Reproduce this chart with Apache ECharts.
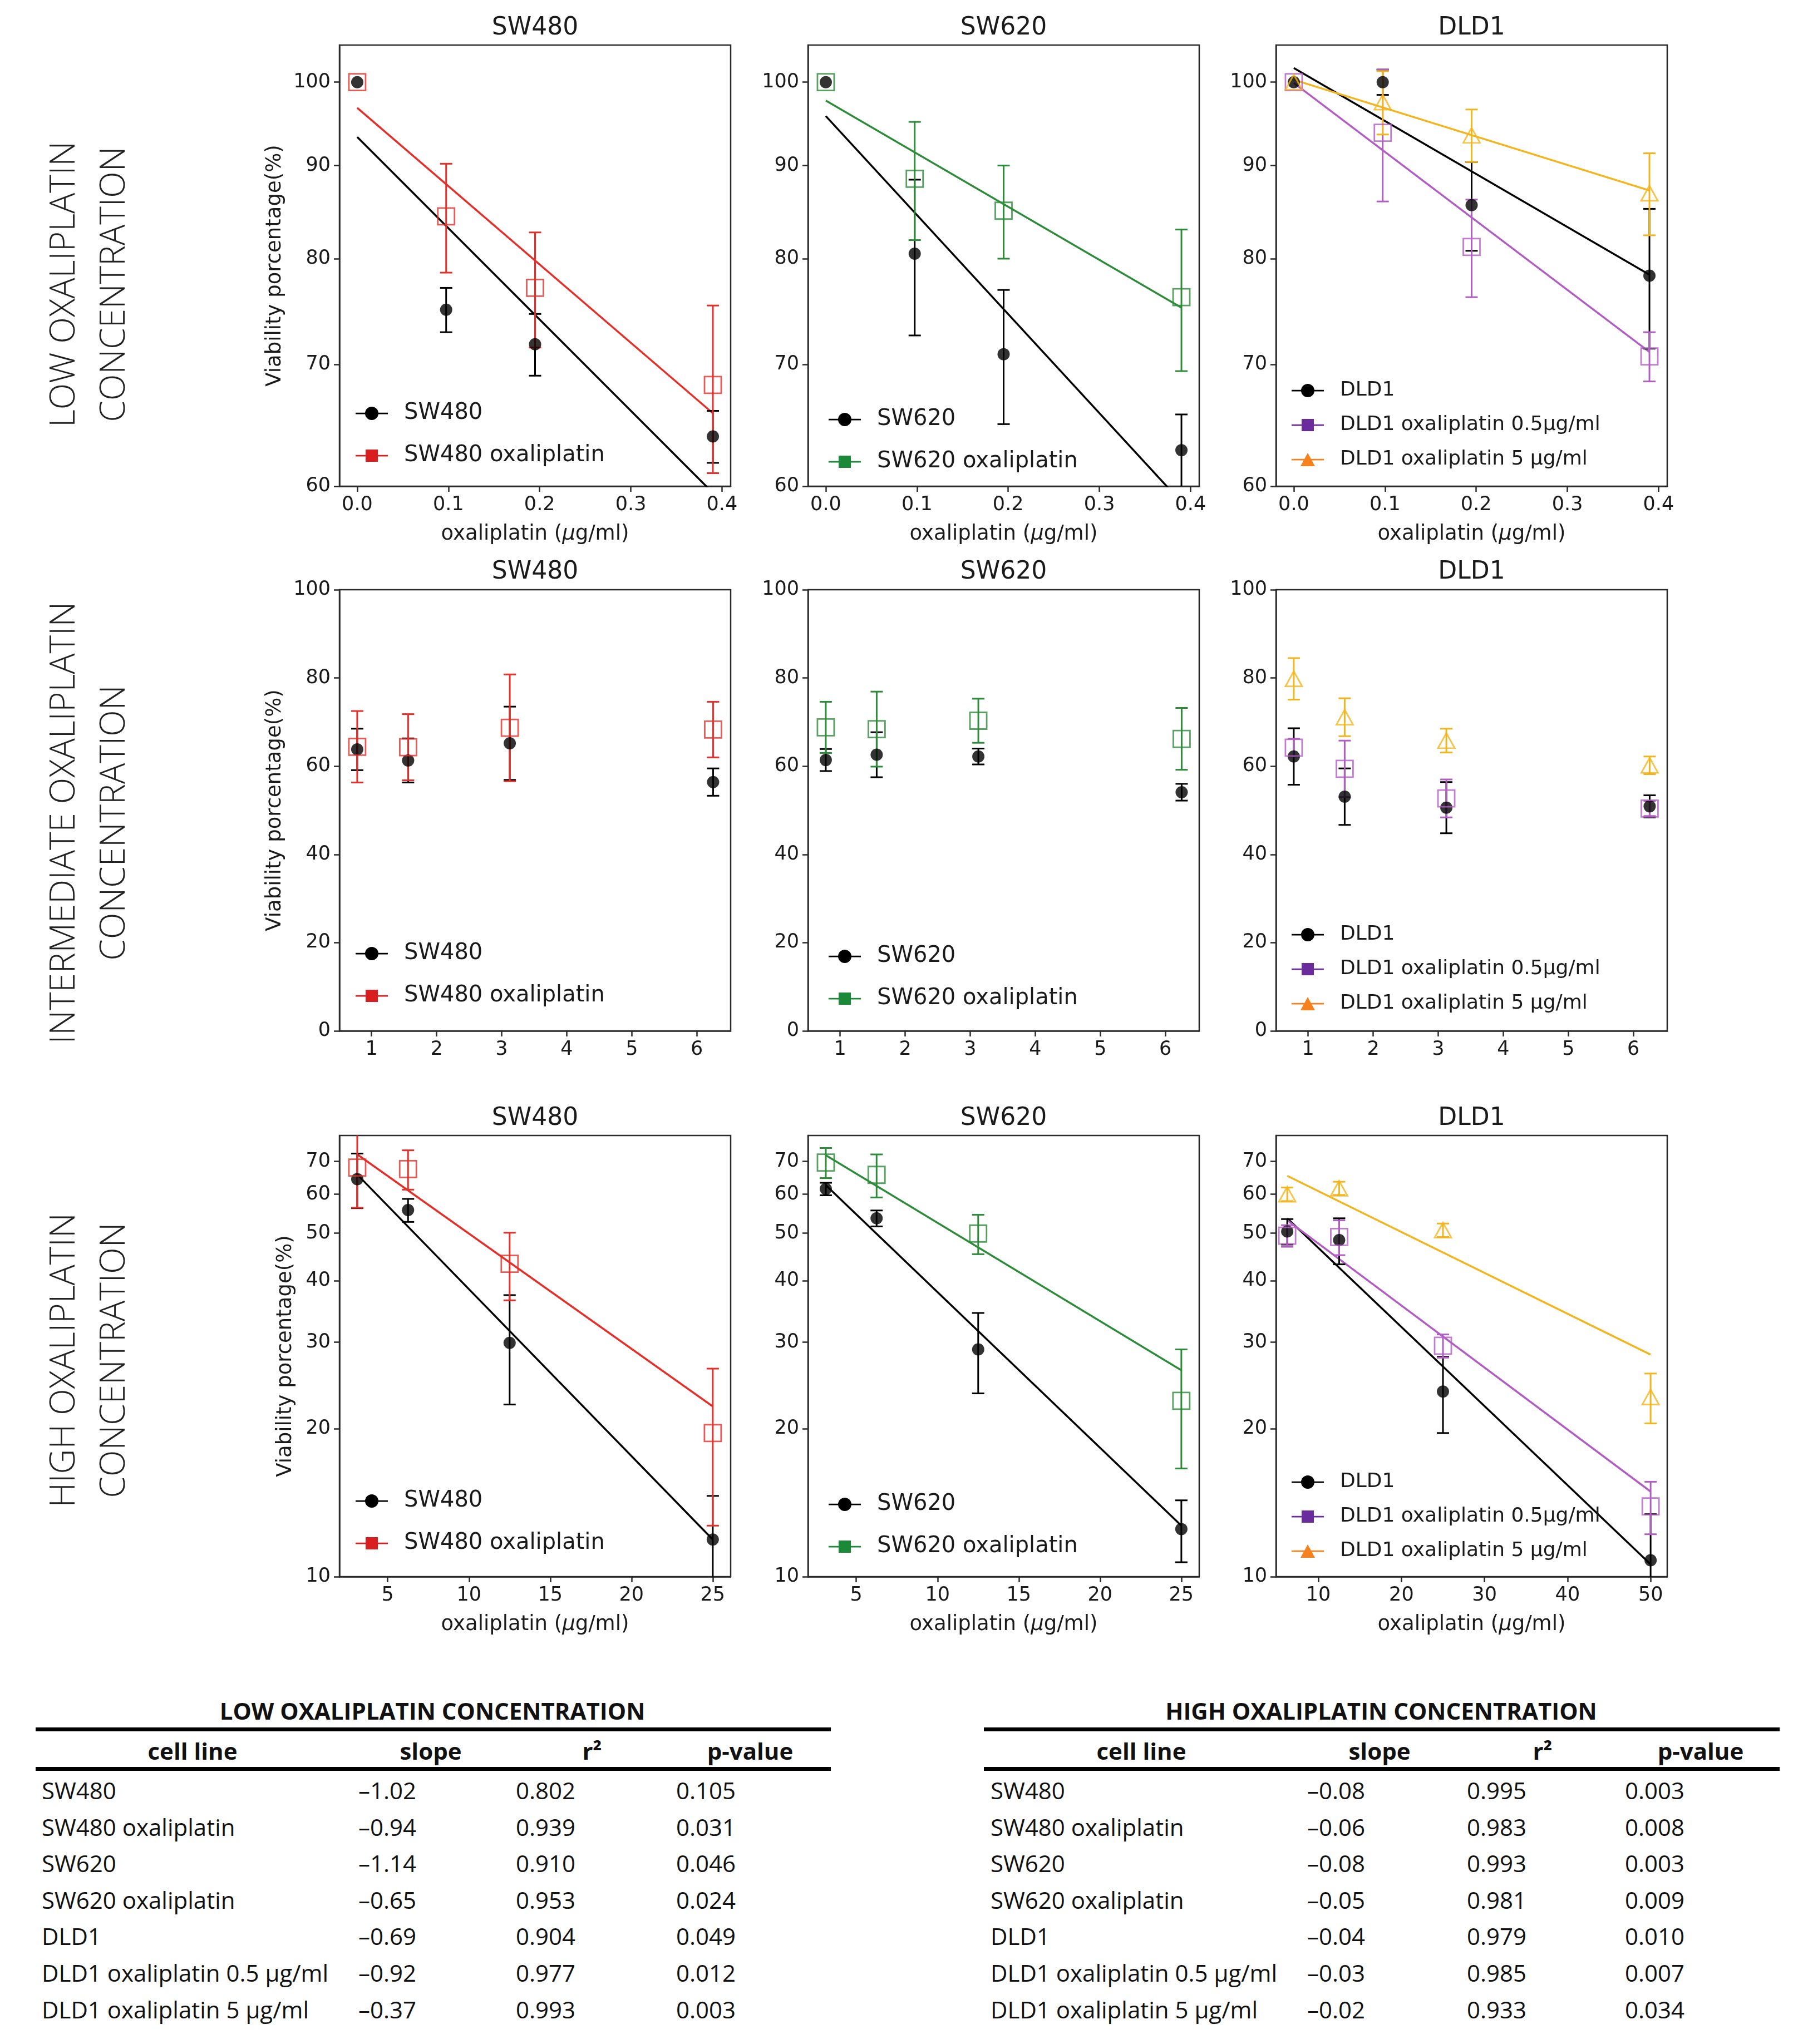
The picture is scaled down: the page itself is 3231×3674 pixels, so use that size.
<!DOCTYPE html>
<html><head><meta charset="utf-8">
<script src="https://cdn.jsdelivr.net/npm/echarts@6/dist/echarts.min.js"></script>
<style>
html,body{margin:0;padding:0;background:#fff;width:3231px;height:3674px;overflow:hidden;}
#chart{position:absolute;left:0;top:0;width:3231px;height:3000px;}
.t{position:absolute;white-space:nowrap;font-family:'Open Sans',sans-serif;color:#111;line-height:1;font-size:42px;}
.b{font-weight:700;}
.rule{position:absolute;background:#000;height:7px;}
</style></head><body>
<div id="chart"></div>
<div id="tables"></div>
<script>
// ---------------- data ----------------
const lowX = [0, 0.0975, 0.195, 0.39];
const midX = [0.78, 1.5625, 3.125, 6.25];
const highSWX = [3.125, 6.25, 12.5, 25];
const highDLDX = [6.25, 12.5, 25, 50];
const lowFitX = [0, 0.39];
const highSWFitX = [3.125, 25];
const highDLDFitX = [6.25, 50];

const lowXTicks = [0, 0.1, 0.2, 0.3, 0.4];
const midXTicks = [1, 2, 3, 4, 5, 6];
const highSWXTicks = [5, 10, 15, 20, 25];
const highDLDXTicks = [10, 20, 30, 40, 50];
const lowYTicks = [60, 70, 80, 90, 100];
const midYTicks = [0, 20, 40, 60, 80, 100];
const highYTicks = [10, 20, 30, 40, 50, 60, 70];

// low concentration
const lowSW480 = [100, 75.0, 71.8, 63.9];        const lowSW480Err = [0, 2.1, 2.8, 2.1];
const lowSW480Ox = [100, 84.4, 77.1, 68.2];      const lowSW480OxErr = [0, 5.8, 5.6, 7.2];
const lowSW480Fit = [93.3, 59.5];                const lowSW480OxFit = [96.8, 65.8];
const lowSW620 = [100, 80.5, 70.9, 62.8];        const lowSW620Err = [0, 7.9, 6.0, 2.9];
const lowSW620Ox = [100, 88.5, 85.0, 76.2];      const lowSW620OxErr = [0, 6.6, 5.0, 6.8];
const lowSW620Fit = [95.8, 58.8];                const lowSW620OxFit = [97.7, 75.2];
const lowDLD1 = [100, 100, 85.6, 78.3];          const lowDLD1Err = [0, 1.6, 4.8, 6.9];
const lowDLD1Ox05 = [100, 93.8, 81.2, 70.7];     const lowDLD1Ox05Err = [0, 7.8, 5.0, 2.2];
const lowDLD1Ox5 = [100, 97.5, 93.5, 86.9];      const lowDLD1Ox5Err = [0, 3.9, 3.1, 4.5];
const lowDLD1Fit = [101.8, 78.4]; const lowDLD1Ox05Fit = [99.9, 71.1]; const lowDLD1Ox5Fit = [100.3, 87.2];

// intermediate concentration
const midSW480 = [63.8, 61.3, 65.2, 56.4];       const midSW480Err = [4.7, 5.0, 8.3, 3.1];
const midSW480Ox = [64.4, 64.3, 68.7, 68.3];     const midSW480OxErr = [8.1, 7.5, 12.1, 6.3];
const midSW620 = [61.4, 62.6, 62.2, 54.1];       const midSW620Err = [2.5, 5.1, 1.8, 1.9];
const midSW620Ox = [68.8, 68.4, 70.3, 66.2];     const midSW620OxErr = [5.8, 8.5, 5.0, 7.0];
const midDLD1 = [62.2, 53.1, 50.6, 50.9];        const midDLD1Err = [6.4, 6.4, 5.8, 2.5];
const midDLD1Ox05 = [64.2, 59.4, 52.7, 50.4];    const midDLD1Ox05Err = [2.0, 6.4, 4.3, 1.7];
const midDLD1Ox5 = [79.8, 71.1, 65.8, 60.2];     const midDLD1Ox5Err = [4.7, 4.3, 2.7, 2.0];

// high concentration
const highSW480 = [64.4, 55.7, 29.9, 11.9];      const highSW480Err = [8.2, 3.0, 7.5, 2.7];
const highSW480Ox = [68.0, 67.5, 43.3, 19.6];    const highSW480OxErr = [11.7, 6.2, 6.8, 6.9];
const highSW480Fit = [65.8, 11.9];               const highSW480OxFit = [72.3, 22.2];
const highSW620 = [61.5, 53.6, 29.0, 12.5];      const highSW620Err = [1.8, 2.0, 5.4, 1.8];
const highSW620Ox = [69.6, 65.7, 49.9, 22.8];    const highSW620OxErr = [4.9, 6.6, 4.6, 6.2];
const highSW620Fit = [62.6, 12.7];               const highSW620OxFit = [72.0, 26.3];
const highDLD1 = [50.4, 48.4, 23.8, 10.8];       const highDLD1Err = [3.0, 5.2, 4.2, 2.6];
const highDLD1Ox05 = [49.4, 49.1, 29.5, 13.9];   const highDLD1Ox05Err = [2.5, 4.0, 1.6, 1.7];
const highDLD1Ox5 = [60.0, 61.7, 50.7, 23.2];    const highDLD1Ox5Err = [1.9, 1.9, 1.6, 2.7];
const highDLD1Fit = [53.6, 10.6]; const highDLD1Ox05Fit = [53.1, 14.9]; const highDLD1Ox5Fit = [65.4, 28.3];

// tables
const tableCellLines = ['SW480', 'SW480 oxaliplatin', 'SW620', 'SW620 oxaliplatin', 'DLD1', 'DLD1 oxaliplatin 0.5 µg/ml', 'DLD1 oxaliplatin 5 µg/ml'];
const tableHeaders = ['cell line', 'slope', 'r²', 'p-value'];
const lowSlope = ['–1.02', '–0.94', '–1.14', '–0.65', '–0.69', '–0.92', '–0.37'];
const lowR2 = ['0.802', '0.939', '0.910', '0.953', '0.904', '0.977', '0.993'];
const lowP = ['0.105', '0.031', '0.046', '0.024', '0.049', '0.012', '0.003'];
const highSlope = ['–0.08', '–0.06', '–0.08', '–0.05', '–0.04', '–0.03', '–0.02'];
const highR2 = ['0.995', '0.983', '0.993', '0.981', '0.979', '0.985', '0.933'];
const highP = ['0.003', '0.008', '0.003', '0.009', '0.010', '0.007', '0.034'];

// ---------------- styling / layout ----------------
const N = {sw480:'SW480', sw480ox:'SW480 oxaliplatin', sw620:'SW620', sw620ox:'SW620 oxaliplatin',
  dld:'DLD1', dld05:'DLD1 oxaliplatin 0.5µg/ml', dld5:'DLD1 oxaliplatin 5 µg/ml'};
const KIND = {
  black: {symbol:'circle', size:22, color:'#000000', hollow:false, legend:'#000000'},
  red: {symbol:'rect', size:30, color:'#E3302A', hollow:true, legend:'#D81E1E'},
  green: {symbol:'rect', size:30, color:'#2E8B3A', hollow:true, legend:'#1A8A38'},
  purple: {symbol:'rect', size:30, color:'#B15EC2', hollow:true, legend:'#6A2C9C'},
  yellow: {symbol:'triangle', size:30, color:'#F2B51E', hollow:true, legend:'#F5821F'}
};
const ICON = {
  circle: 'path://M0,10.8h58v2.6h-58z M17,12a12,12 0 1,1 24,0a12,12 0 1,1 -24,0z',
  rect: 'path://M0,10.8h58v2.6h-58z M18,1h22v22h-22z M0,0h0.01v24h-0.01z',
  triangle: 'path://M0,10.8h58v2.6h-58z M29,0L42,24H16z'
};
const colLeft = [610, 1452, 2293], gridW = 703;
const rowTop = [81, 1060, 2041], gridH = 793;
const titleY = [51, 1029, 2011];
const legendTop = [[715, 726, 676], [1686, 1691, 1654], [2670, 2676, 2638]];
const legendDx = [24, 32, 23];

function grp(name, kind, x, y, e, fitX, fit) { return {name, kind, x, y, e, fitX, fit}; }
const panels = [
  {r:0, c:0, title:'SW480', ylog:true, ymin:60, ymax:104.8, yTicks:lowYTicks, xmin:-0.0195, xmax:0.4095, xTicks:lowXTicks, xDec:1,
   groups:[grp(N.sw480,'black',lowX,lowSW480,lowSW480Err,lowFitX,lowSW480Fit), grp(N.sw480ox,'red',lowX,lowSW480Ox,lowSW480OxErr,lowFitX,lowSW480OxFit)]},
  {r:0, c:1, title:'SW620', ylog:true, ymin:60, ymax:104.8, yTicks:lowYTicks, xmin:-0.0195, xmax:0.4095, xTicks:lowXTicks, xDec:1,
   groups:[grp(N.sw620,'black',lowX,lowSW620,lowSW620Err,lowFitX,lowSW620Fit), grp(N.sw620ox,'green',lowX,lowSW620Ox,lowSW620OxErr,lowFitX,lowSW620OxFit)]},
  {r:0, c:2, title:'DLD1', ylog:true, ymin:60, ymax:104.8, yTicks:lowYTicks, xmin:-0.0195, xmax:0.4095, xTicks:lowXTicks, xDec:1,
   groups:[grp(N.dld,'black',lowX,lowDLD1,lowDLD1Err,lowFitX,lowDLD1Fit), grp(N.dld05,'purple',lowX,lowDLD1Ox05,lowDLD1Ox05Err,lowFitX,lowDLD1Ox05Fit), grp(N.dld5,'yellow',lowX,lowDLD1Ox5,lowDLD1Ox5Err,lowFitX,lowDLD1Ox5Fit)]},
  {r:1, c:0, title:'SW480', ylog:false, ymin:0, ymax:100, yTicks:midYTicks, xmin:0.507, xmax:6.52, xTicks:midXTicks, xDec:0, noXName:true,
   groups:[grp(N.sw480,'black',midX,midSW480,midSW480Err), grp(N.sw480ox,'red',midX,midSW480Ox,midSW480OxErr)]},
  {r:1, c:1, title:'SW620', ylog:false, ymin:0, ymax:100, yTicks:midYTicks, xmin:0.507, xmax:6.52, xTicks:midXTicks, xDec:0, noXName:true,
   groups:[grp(N.sw620,'black',midX,midSW620,midSW620Err), grp(N.sw620ox,'green',midX,midSW620Ox,midSW620OxErr)]},
  {r:1, c:2, title:'DLD1', ylog:false, ymin:0, ymax:100, yTicks:midYTicks, xmin:0.507, xmax:6.52, xTicks:midXTicks, xDec:0, noXName:true,
   groups:[grp(N.dld,'black',midX,midDLD1,midDLD1Err), grp(N.dld05,'purple',midX,midDLD1Ox05,midDLD1Ox05Err), grp(N.dld5,'yellow',midX,midDLD1Ox5,midDLD1Ox5Err)]},
  {r:2, c:0, title:'SW480', ylog:true, ymin:10, ymax:79, yTicks:highYTicks, xmin:2.03, xmax:26.1, xTicks:highSWXTicks, xDec:0,
   groups:[grp(N.sw480,'black',highSWX,highSW480,highSW480Err,highSWFitX,highSW480Fit), grp(N.sw480ox,'red',highSWX,highSW480Ox,highSW480OxErr,highSWFitX,highSW480OxFit)]},
  {r:2, c:1, title:'SW620', ylog:true, ymin:10, ymax:79, yTicks:highYTicks, xmin:2.03, xmax:26.1, xTicks:highSWXTicks, xDec:0,
   groups:[grp(N.sw620,'black',highSWX,highSW620,highSW620Err,highSWFitX,highSW620Fit), grp(N.sw620ox,'green',highSWX,highSW620Ox,highSW620OxErr,highSWFitX,highSW620OxFit)]},
  {r:2, c:2, title:'DLD1', ylog:true, ymin:10, ymax:79, yTicks:highYTicks, xmin:4.9, xmax:52, xTicks:highDLDXTicks, xDec:0,
   groups:[grp(N.dld,'black',highDLDX,highDLD1,highDLD1Err,highDLDFitX,highDLD1Fit), grp(N.dld05,'purple',highDLDX,highDLD1Ox05,highDLD1Ox05Err,highDLDFitX,highDLD1Ox05Fit), grp(N.dld5,'yellow',highDLDX,highDLD1Ox5,highDLD1Ox5Err,highDLDFitX,highDLD1Ox5Fit)]}
];

const AX = '#2a2a2a', TXT = '#1a1a1a', FONT = 'DejaVu Sans';
const grids = [], xAxes = [], yAxes = [], series = [], legends = [], graphics = [];

function errSeries(idx, color, data) {
  return {type:'custom', xAxisIndex:idx, yAxisIndex:idx, data, clip:true, silent:true, z:3,
    dimensions:['x','y','e'], encode:{x:0, y:1},
    renderItem: function (params, api) {
      const x = api.value(0), y = api.value(1), e = api.value(2);
      if (!(e > 0)) return null;
      const p1 = api.coord([x, y + e]), p2 = api.coord([x, y - e]);
      const c = 11, st = {stroke: color, lineWidth: 3};
      return {type:'group', children:[
        {type:'line', shape:{x1:p1[0], y1:p1[1], x2:p2[0], y2:p2[1]}, style:st},
        {type:'line', shape:{x1:p1[0]-c, y1:p1[1], x2:p1[0]+c, y2:p1[1]}, style:st},
        {type:'line', shape:{x1:p2[0]-c, y1:p2[1], x2:p2[0]+c, y2:p2[1]}, style:st}
      ]};
    }};
}

panels.forEach((p, i) => {
  const gl = colLeft[p.c], gt = rowTop[p.r];
  grids.push({left:gl, top:gt, width:gridW, height:gridH, show:true, borderColor:AX, borderWidth:2.5, backgroundColor:'transparent'});
  const xa = {type:'value', gridIndex:i, min:p.xmin, max:p.xmax,
    axisLine:{show:true, onZero:false, lineStyle:{color:AX, width:2.5}},
    axisTick:{show:true, length:10, lineStyle:{color:AX, width:2.5}, customValues:p.xTicks},
    axisLabel:{customValues:p.xTicks, formatter:v => Number(v).toFixed(p.xDec), fontSize:35, color:TXT, fontFamily:FONT, margin:16},
    splitLine:{show:false}};
  if (!p.noXName) {
    xa.name = 'oxaliplatin ({i|µ}g/ml)';
    xa.nameLocation = 'middle'; xa.nameGap = 68;
    xa.nameTextStyle = {fontSize:37, fontFamily:FONT, color:TXT, rich:{i:{fontSize:37, fontFamily:FONT, fontStyle:'italic', color:TXT}}};
  }
  xAxes.push(xa);
  const ya = {type:p.ylog ? 'log' : 'value', gridIndex:i, min:p.ymin, max:p.ymax,
    axisLine:{show:true, onZero:false, lineStyle:{color:AX, width:2.5}},
    axisTick:{show:true, length:10, lineStyle:{color:AX, width:2.5}, customValues:p.yTicks},
    axisLabel:{customValues:p.yTicks, formatter:v => String(Math.round(v)), fontSize:35, color:TXT, fontFamily:FONT, margin:16},
    splitLine:{show:false}, minorTick:{show:false}};
  if (p.ylog) ya.logBase = 10;
  if (p.c === 0) {
    ya.name = 'Viability porcentage(%)'; ya.nameLocation = 'middle'; ya.nameGap = p.r === 2 ? 78 : 97;
    ya.nameTextStyle = {fontSize:37, fontFamily:FONT, color:TXT};
  }
  yAxes.push(ya);

  p.groups.forEach(g => {
    const k = KIND[g.kind];
    if (g.fit) {
      series.push({type:'line', xAxisIndex:i, yAxisIndex:i, data:g.fitX.map((x, j) => [x, g.fit[j]]),
        showSymbol:false, symbol:'none', silent:true, clip:true, z:2, lineStyle:{color:k.color, width:3.5}});
    }
  });
  p.groups.forEach(g => {
    const k = KIND[g.kind];
    series.push(errSeries(i, k.color, g.x.map((x, j) => [x, g.y[j], g.e[j]])));
    series.push({type:'scatter', name:g.name, xAxisIndex:i, yAxisIndex:i, data:g.x.map((x, j) => [x, g.y[j]]),
      symbol:k.symbol, symbolSize:k.symbol === 'triangle' ? [30, 27] : k.size, z:4, clip:true,
      itemStyle: k.hollow ? {color:'rgba(255,255,255,0)', borderColor:k.color, borderWidth:2.8} : {color:k.color}});
  });

  const three = p.groups.length === 3;
  legends.push({orient:'vertical', left:gl + legendDx[p.c], top:legendTop[p.r][p.c],
    itemWidth:58, itemHeight:24, itemGap: three ? 20 : 30, selectedMode:false,
    textStyle:{fontSize: three ? 36 : 40, fontFamily:FONT, color:TXT, lineHeight: three ? 42 : 46, padding:[0,0,0,24]},
    data:p.groups.map(g => ({name:g.name, icon:ICON[KIND[g.kind].symbol],
      itemStyle:{color:KIND[g.kind].legend, borderWidth:0, opacity:1}}))});

  graphics.push({type:'text', x:gl + gridW / 2, y:titleY[p.r], silent:true,
    style:{text:p.title, fontSize:44, fontFamily:FONT, fill:TXT, align:'center', verticalAlign:'middle'}});
});

const rowLabels = ['LOW OXALIPLATIN\nCONCENTRATION', 'INTERMEDIATE OXALIPLATIN\nCONCENTRATION', 'HIGH OXALIPLATIN\nCONCENTRATION'];
const rowLabelY = [511, 1479, 2445];
rowLabels.forEach((t, r) => {
  graphics.push({type:'text', x:161, y:rowLabelY[r], rotation:Math.PI / 2, silent:true,
    style:{text:t, fontSize:62, fontWeight:300, fontFamily:'Open Sans', fill:'#222', align:'center', verticalAlign:'middle', lineHeight:90}});
});

const chart = echarts.init(document.getElementById('chart'), null, {renderer:'canvas'});
chart.setOption({animation:false, backgroundColor:'#fff', grid:grids, xAxis:xAxes, yAxis:yAxes, series, legend:legends, graphic:{elements:graphics}});

// ---------------- tables ----------------
const tablesEl = document.getElementById('tables');
function addText(txt, x, y, cls, anchor) {
  const d = document.createElement('div');
  d.className = 't ' + (cls || '');
  d.textContent = txt;
  d.style.left = x + 'px'; d.style.top = y + 'px';
  d.style.transform = anchor === 'c' ? 'translate(-50%,-50%)' : 'translate(0,-50%)';
  tablesEl.appendChild(d);
}
function addRule(x0, x1, y) {
  const d = document.createElement('div');
  d.className = 'rule';
  d.style.left = x0 + 'px'; d.style.width = (x1 - x0) + 'px'; d.style.top = y + 'px';
  tablesEl.appendChild(d);
}
const tableDefs = [
  {title:'LOW OXALIPLATIN CONCENTRATION', x0:64, x1:1493, titleX:777, headX:[346, 774, 1064, 1348], colX:[75, 644, 927, 1215], cols:[tableCellLines, lowSlope, lowR2, lowP]},
  {title:'HIGH OXALIPLATIN CONCENTRATION', x0:1768, x1:3198, titleX:2482, headX:[2051, 2479, 2772, 3056], colX:[1780, 2349, 2636, 2920], cols:[tableCellLines, highSlope, highR2, highP]}
];
tableDefs.forEach(t => {
  addText(t.title, t.titleX, 3075, 'b', 'c');
  addRule(t.x0, t.x1, 3105);
  tableHeaders.forEach((h, j) => addText(h, t.headX[j], 3147, 'b', 'c'));
  addRule(t.x0, t.x1, 3176);
  t.cols.forEach((col, j) => col.forEach((v, k) => addText(v, t.colX[j], 3218 + 65.6 * k, '', 'l')));
});
</script>
</body></html>
